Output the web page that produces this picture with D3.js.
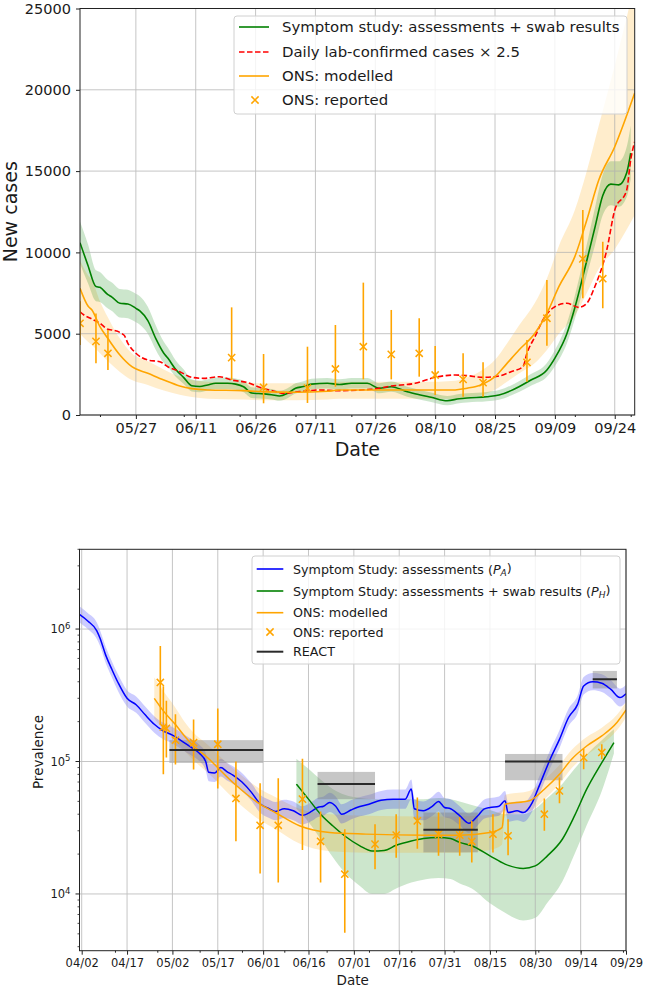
<!DOCTYPE html>
<html><head><meta charset="utf-8">
<script src="https://cdn.jsdelivr.net/npm/d3@7"></script>
<style>
body{margin:0;background:#fff;}
text{font-family:"DejaVu Sans",sans-serif;fill:#1a1a1a;}
</style>
</head><body>
<svg id="c" width="645" height="988"></svg>
<script>
// ================= DATA: top chart (new cases) =================
const topXTicks = ["05/27","06/11","06/26","07/11","07/26","08/10","08/25","09/09","09/24"];
const topXMinor = ["05/18","06/08","06/22","07/06","07/20","08/03","08/17","08/31","09/14","09/28"];
const topYTicks = [0,5000,10000,15000,20000,25000];

const symDates = ["05-13","05-15","05-17","05-18","05-20","05-21","05-23","05-25","05-27","05-28","05-30","06-01","06-03","06-04","06-06","06-08","06-10","06-12","06-14","06-16","06-19","06-21","06-23","06-25","06-28","06-30","07-02","07-04","07-06","07-08","07-10","07-14","07-17","07-20","07-24","07-27","07-30","08-03","08-06","08-09","08-13","08-16","08-18","08-23","08-26","08-29","08-31","09-03","09-07","09-09","09-12","09-14","09-17","09-19","09-21","09-23","09-25","09-27","09-28"];
const symVals  = [10600,9200,7900,7850,7400,7250,6870,6830,6560,6400,5800,4700,3800,3500,2800,2300,1800,1750,1850,1950,1950,1900,1740,1350,1300,1250,1170,1330,1640,1750,1900,1950,1880,1950,1950,1640,1740,1430,1250,1090,880,1000,1050,1120,1230,1500,1740,2150,2770,3500,5000,6600,9500,11500,13500,14200,14150,14900,16100];
const symLo    = [9300,8100,7000,6950,6550,6400,6000,5950,5700,5550,5000,4000,3200,2950,2350,1900,1450,1400,1500,1600,1600,1550,1400,1050,1000,950,870,1030,1320,1430,1580,1630,1560,1630,1630,1330,1430,1130,960,800,600,720,770,840,940,1200,1420,1800,2350,3000,4400,5900,8600,10400,12300,12900,12800,13400,14500];
const symHi    = [11900,10500,8900,8800,8300,8150,7750,7700,7450,7300,6650,5500,4500,4150,3350,2800,2200,2100,2200,2300,2300,2250,2100,1700,1650,1600,1500,1650,1950,2080,2230,2280,2200,2280,2280,1960,2060,1740,1550,1380,1170,1290,1340,1420,1530,1820,2080,2520,3200,4000,5650,7350,10500,12700,14800,15600,15600,16500,17800];

const labDates = ["05-13","05-14","05-16","05-18","05-20","05-21","05-24","05-25","05-27","05-30","06-02","06-04","06-07","06-10","06-13","06-17","06-20","06-24","06-27","06-30","07-03","07-07","07-12","07-17","07-25","07-30","08-05","08-10","08-15","08-18","08-22","08-26","08-29","09-01","09-02","09-04","09-06","09-09","09-12","09-15","09-17","09-19","09-22","09-24","09-27","09-28","09-29"];
const labVals  = [6350,6150,5900,5640,5270,5230,4920,4410,3800,3380,3280,2970,2665,2317,2255,2357,2150,1990,1700,1500,1335,1435,1537,1497,1580,1783,1950,2317,2460,2420,2317,2400,2665,2970,3795,4816,5843,6660,6870,6620,6870,7890,10150,12600,13840,15700,16800];

const onsDates = ["05-13","05-15","05-16","05-18","05-20","05-23","05-26","05-30","06-03","06-07","06-10","06-14","06-23","06-29","07-06","07-14","07-17","07-26","08-03","08-11","08-15","08-18","08-20","08-22","08-25","08-28","08-31","09-04","09-07","09-10","09-14","09-17","09-20","09-24","09-29"];
const onsVals  = [7790,6700,6460,5430,4700,3690,2970,2565,2150,1783,1620,1537,1500,1420,1400,1460,1537,1537,1537,1537,1540,1650,1740,1906,2357,3177,3997,5024,6250,7890,9740,11993,14453,16500,19800];
const onsLo    = [5000,4500,4300,3800,3300,2650,2150,1850,1500,1250,1100,1000,950,900,900,950,1000,1000,1000,1000,1000,1080,1150,1250,1550,2050,2550,3200,4000,5000,6100,7500,9000,10200,12300];
const onsHi    = [9500,8600,8300,7000,6000,4700,3800,3300,2800,2350,2150,2050,2000,1950,1950,2000,2050,2050,2050,2050,2100,2300,2500,2800,3400,4400,5500,6900,8400,10400,12600,15000,17800,21500,26500];

const repDates = ["05-13","05-17","05-20","06-20","06-28","07-09","07-16","07-23","07-30","08-06","08-10","08-17","08-22","09-02","09-07","09-16","09-21"];
const repVals  = [5640,4530,3795,3525,1700,1650,2830,4200,3730,3795,2460,2195,1990,3240,5950,9600,8380];
const repLo    = [4300,3180,2768,2150,720,740,1740,2190,2190,2357,1230,1130,1126,2050,4260,7180,6560];
const repHi    = [7000,6250,5230,6620,3750,4200,5535,8140,6460,5950,4240,3795,3240,4613,8300,12600,10660];

// ================= DATA: bottom chart (prevalence) =================
const botXTicks = ["04/02","04/17","05/02","05/17","06/01","06/16","07/01","07/16","07/31","08/15","08/30","09/14","09/29"];
const botXMinor = ["04/13","04/27","05/11","05/25","06/08","06/22","07/06","07/20","08/03","08/17","08/31","09/14","09/28"];
const botYTicks = [1e4,1e5,1e6];
const botYExp = ["4","5","6"];

const paDates = ["04-01","04-04","04-07","04-08","04-10","04-12","04-14","04-17","04-20","04-23","04-26","04-29","05-02","05-05","05-08","05-11","05-13","05-14","05-16","05-18","05-20","05-22","05-25","05-28","05-31","06-03","06-05","06-08","06-11","06-14","06-17","06-19","06-21","06-23","06-25","06-27","06-30","07-02","07-06","07-10","07-14","07-18","07-20","07-21","07-24","07-27","07-29","07-31","08-02","08-05","08-08","08-11","08-13","08-15","08-18","08-20","08-21","08-24","08-26","08-29","08-31","09-04","09-07","09-10","09-13","09-15","09-18","09-21","09-24","09-27","09-29"];
const paVals = [1.30e6,1.15e6,9.7e5,8.6e5,6.3e5,4.95e5,3.95e5,3.0e5,2.68e5,2.25e5,1.91e5,1.70e5,1.58e5,1.43e5,1.29e5,1.15e5,1.0e5,8.3e4,8.2e4,9.0e4,8.4e4,7.9e4,7.0e4,5.9e4,4.8e4,4.4e4,4.2e4,4.4e4,4.25e4,3.93e4,4.2e4,4.5e4,4.6e4,4.9e4,4.6e4,4.0e4,4.3e4,4.5e4,4.76e4,5.1e4,5.2e4,5.2e4,6.2e4,4.4e4,4.25e4,4.6e4,5.0e4,4.5e4,4.4e4,3.9e4,3.42e4,3.9e4,4.37e4,4.5e4,4.6e4,5.05e4,4.12e4,4.24e4,4.12e4,4.9e4,6.3e4,1.05e5,1.47e5,2.15e5,2.7e5,3.72e5,4.0e5,3.9e5,3.5e5,3.04e5,3.25e5];
const paLo = [1.13e6,1.0e6,8.4e5,7.5e5,5.5e5,4.3e5,3.4e5,2.6e5,2.33e5,1.95e5,1.65e5,1.47e5,1.37e5,1.24e5,1.12e5,1.0e5,8.6e4,7.1e4,7.0e4,7.7e4,7.2e4,6.8e4,6.0e4,5.1e4,4.1e4,3.75e4,3.6e4,3.75e4,3.6e4,3.35e4,3.55e4,3.8e4,3.9e4,4.15e4,3.9e4,3.4e4,3.65e4,3.8e4,4.0e4,4.3e4,4.4e4,4.4e4,5.2e4,3.7e4,3.6e4,3.9e4,4.2e4,3.8e4,3.7e4,3.3e4,2.9e4,3.3e4,3.7e4,3.8e4,3.9e4,4.3e4,3.5e4,3.6e4,3.5e4,4.2e4,5.4e4,9.0e4,1.26e5,1.85e5,2.3e5,3.2e5,3.45e5,3.35e5,3.0e5,2.6e5,2.8e5];
const paHi = [1.50e6,1.32e6,1.12e6,9.9e5,7.3e5,5.7e5,4.55e5,3.45e5,3.1e5,2.6e5,2.2e5,1.96e5,1.82e5,1.65e5,1.49e5,1.33e5,1.16e5,9.7e4,9.6e4,1.05e5,9.8e4,9.2e4,8.2e4,6.9e4,5.6e4,5.15e4,4.95e4,5.15e4,5.0e4,4.6e4,4.95e4,5.3e4,5.45e4,5.8e4,5.45e4,4.75e4,5.1e4,5.3e4,5.6e4,6.0e4,6.15e4,6.15e4,7.3e4,5.2e4,5.0e4,5.45e4,5.9e4,5.3e4,5.2e4,4.6e4,4.05e4,4.6e4,5.15e4,5.3e4,5.45e4,6.0e4,4.9e4,5.0e4,4.9e4,5.8e4,7.4e4,1.23e5,1.72e5,2.5e5,3.15e5,4.35e5,4.65e5,4.55e5,4.1e5,3.55e5,3.8e5];

const phDates = ["06-12","06-16","06-20","06-24","06-28","07-03","07-07","07-11","07-15","07-20","07-24","07-29","08-02","08-05","08-09","08-15","08-20","08-26","08-30","09-03","09-08","09-12","09-16","09-21","09-25"];
const phVals = [6.75e4,5.2e4,4.0e4,3.27e4,2.74e4,2.31e4,2.11e4,2.13e4,2.33e4,2.51e4,2.62e4,2.67e4,2.62e4,2.45e4,2.31e4,1.94e4,1.68e4,1.56e4,1.63e4,1.94e4,2.6e4,3.9e4,6.18e4,9.8e4,1.39e5];
const phLo = [4.4e4,3.5e4,2.6e4,1.9e4,1.45e4,1.15e4,1.0e4,1.0e4,1.1e4,1.22e4,1.28e4,1.32e4,1.3e4,1.2e4,1.1e4,8.5e3,7.2e3,6.3e3,6.6e3,8.6e3,1.25e4,2.0e4,3.3e4,6.0e4,1.15e5];
const phHi = [1.05e5,8.8e4,7.3e4,6.2e4,5.6e4,5.3e4,5.2e4,5.2e4,5.2e4,5.2e4,5.2e4,5.3e4,5.2e4,5.0e4,4.7e4,4.3e4,4.0e4,4.0e4,4.4e4,5.3e4,6.8e4,8.8e4,1.13e5,1.45e5,1.75e5];

const onsBDates = ["04-26","04-29","05-03","05-06","05-09","05-13","05-22","05-31","06-05","06-13","06-23","07-05","07-25","08-05","08-15","08-19","08-20","08-28","09-02","09-07","09-11","09-16","09-21","09-26","09-29"];
const onsBVals = [3.0e5,2.41e5,1.9e5,1.56e5,1.31e5,1.1e5,6.95e4,4.76e4,4.12e4,3.27e4,2.91e4,2.83e4,2.78e4,2.78e4,2.91e4,3.17e4,4.76e4,5.05e4,6.18e4,8.0e4,1.04e5,1.31e5,1.56e5,1.97e5,2.45e5];
const onsBLo = [2.1e5,1.75e5,1.45e5,1.2e5,1.02e5,8.5e4,5.3e4,3.6e4,3.1e4,2.4e4,2.1e4,2.05e4,2.05e4,2.05e4,2.15e4,2.35e4,3.9e4,4.2e4,5.2e4,6.8e4,8.9e4,1.12e5,1.35e5,1.72e5,2.15e5];
const onsBHi = [4.3e5,3.4e5,2.55e5,2.0e5,1.65e5,1.38e5,8.9e4,6.2e4,5.4e4,4.4e4,4.0e4,3.9e4,3.85e4,3.85e4,3.95e4,4.3e4,5.6e4,6.0e4,7.3e4,9.4e4,1.22e5,1.53e5,1.8e5,2.25e5,2.8e5];

const repBDates = ["04-28","04-29","04-30","05-03","05-09","05-17","05-23","05-31","06-06","06-14","06-20","06-28","07-08","07-15","07-22","07-29","08-05","08-09","08-16","08-21","09-02","09-07","09-15","09-21"];
const repBVals = [3.95e5,1.82e5,1.78e5,1.45e5,1.39e5,1.35e5,5.26e4,3.3e4,3.3e4,5.2e4,2.5e4,1.41e4,2.38e4,2.78e4,3.56e4,2.83e4,2.78e4,2.5e4,2.83e4,2.75e4,4.0e4,6.0e4,1.07e5,1.17e5];
const repBLo = [1.9e5,8.0e4,1.07e5,9.5e4,8.7e4,6.25e4,2.5e4,1.43e4,1.22e4,2.15e4,1.22e4,5.1e3,1.54e4,1.88e4,2.19e4,1.94e4,1.94e4,1.73e4,2.06e4,1.96e4,3.0e4,4.84e4,8.75e4,1.04e5];
const repBHi = [7.45e5,3.7e5,2.87e5,2.27e5,2.08e5,2.51e5,1.0e5,6.85e4,7.48e4,1.05e5,4.2e4,3.08e4,3.36e4,4.0e4,5.35e4,4.12e4,3.79e4,3.56e4,4.0e4,3.67e4,5.26e4,7.57e4,1.25e5,1.35e5];

const reactStart = ["05-01","06-19","07-24","08-20","09-18"];
const reactEnd   = ["06-01","07-08","08-11","09-08","09-26"];
const reactVals  = [1.22e5,6.75e4,3.05e4,1.0e5,4.18e5];
const reactLo    = [9.75e4,5.19e4,2.06e4,7.22e4,3.56e5];
const reactHi    = [1.45e5,8.35e4,4.12e4,1.14e5,4.83e5];

// ================= DRAWING =================
const svg = d3.select("#c");
const dt = s => new Date(2020, +s.slice(0,2)-1, +s.slice(3,5));
const GREEN="#008000", ORANGE="#ffa500", RED="#ff0000", BLUE="#0000ff";
const defs = svg.append("defs");

function zip(dates, vals, lo, hi){ return dates.map((d,i)=>({d:dt(d), v:vals[i], lo:lo?lo[i]:null, hi:hi?hi[i]:null})); }

function drawPanel(cfg){
  const {L, R, Tp, B, id} = cfg;
  defs.append("clipPath").attr("id", id).append("rect").attr("x",L).attr("y",Tp).attr("width",R-L).attr("height",B-Tp);
  const g = svg.append("g");
  const plot = g.append("g").attr("clip-path", `url(#${id})`);
  return {g, plot};
}

function band(plot, data, x, y, color, op){
  plot.append("path").datum(data)
    .attr("d", d3.area().x(d=>x(d.d)).y0(d=>y(d.lo)).y1(d=>y(d.hi)).curve(d3.curveMonotoneX))
    .attr("fill", color).attr("opacity", op).attr("stroke","none");
}
function line(plot, data, x, y, color, w, dash){
  const p = plot.append("path").datum(data)
    .attr("d", d3.line().x(d=>x(d.d)).y(d=>y(d.v)).curve(d3.curveMonotoneX))
    .attr("fill","none").attr("stroke", color).attr("stroke-width", w);
  if(dash) p.attr("stroke-dasharray", dash);
}
function errMarks(plot, data, x, y, color){
  const gg = plot.append("g");
  data.forEach(d=>{
    gg.append("line").attr("x1",x(d.d)).attr("x2",x(d.d)).attr("y1",y(d.lo)).attr("y2",y(d.hi))
      .attr("stroke",color).attr("stroke-width",1.6);
    gg.append("path").attr("transform",`translate(${x(d.d)},${y(d.v)})`)
      .attr("d","M-3.6,-3.6L3.6,3.6M-3.6,3.6L3.6,-3.6").attr("stroke",color).attr("stroke-width",1.5).attr("fill","none");
  });
}
const md = s => dt(s.replace("/","-"));

// ---------------- TOP PANEL ----------------
{
  const L=80, R=634.7, Tp=8.5, B=415;
  const x = d3.scaleTime().domain([dt("05-13"), dt("09-29")]).range([L,R]);
  const y = d3.scaleLinear().domain([0,25000]).range([B,Tp]);
  const {g, plot} = drawPanel({L,R,Tp,B,id:"clipTop"});

  band(plot, zip(onsDates, onsVals, onsLo, onsHi), x, y, ORANGE, 0.2);
  band(plot, zip(symDates, symVals, symLo, symHi), x, y, GREEN, 0.2);

  const grid = g.append("g").attr("stroke","#b0b0b0").attr("stroke-width",0.9).attr("opacity",0.8);
  topXTicks.forEach(t=>grid.append("line").attr("x1",x(md(t))).attr("x2",x(md(t))).attr("y1",Tp).attr("y2",B));
  topYTicks.forEach(t=>grid.append("line").attr("x1",L).attr("x2",R).attr("y1",y(t)).attr("y2",y(t)));

  const plot2 = g.append("g").attr("clip-path","url(#clipTop)");
  line(plot2, zip(symDates, symVals), x, y, GREEN, 1.6);
  line(plot2, zip(labDates, labVals), x, y, RED, 1.6, "5.5,2.5");
  line(plot2, zip(onsDates, onsVals), x, y, ORANGE, 1.6);
  errMarks(plot2, zip(repDates, repVals, repLo, repHi), x, y, ORANGE);

  const ax = g.append("g").attr("transform",`translate(0,${B})`)
    .call(d3.axisBottom(x).tickValues(topXTicks.map(md)).tickFormat(d3.timeFormat("%m/%d")).tickSize(4).tickPadding(4));
  ax.select(".domain").remove();
  ax.selectAll("text").attr("font-size",14.5).attr("font-family","DejaVu Sans").attr("fill","#1a1a1a");
  ax.selectAll("line").attr("stroke","#222");
  const axm = g.append("g").attr("transform",`translate(0,${B})`)
    .call(d3.axisBottom(x).tickValues(topXMinor.map(md)).tickFormat("").tickSize(2));
  axm.select(".domain").remove(); axm.selectAll("line").attr("stroke","#222");
  const ay = g.append("g").attr("transform",`translate(${L},0)`)
    .call(d3.axisLeft(y).tickValues(topYTicks).tickFormat(d3.format("d")).tickSize(4).tickPadding(5));
  ay.select(".domain").remove();
  ay.selectAll("text").attr("font-size",14.5).attr("font-family","DejaVu Sans").attr("fill","#1a1a1a");
  ay.selectAll("line").attr("stroke","#222");

  g.append("rect").attr("x",L).attr("y",Tp).attr("width",R-L).attr("height",B-Tp)
    .attr("fill","none").attr("stroke","#222").attr("stroke-width",1);

  g.append("text").attr("x",(L+R)/2).attr("y",456).attr("text-anchor","middle").attr("font-size",19).text("Date");
  g.append("text").attr("transform",`translate(16.5,${(Tp+B)/2}) rotate(-90)`).attr("text-anchor","middle").attr("font-size",19).text("New cases");

  const lg = g.append("g");
  lg.append("rect").attr("x",234).attr("y",16).attr("width",393).attr("height",98).attr("rx",3)
    .attr("fill","#fff").attr("fill-opacity",0.8).attr("stroke","#d0d0d0");
  const items = [
    {t:"Symptom study: assessments + swab results", c:GREEN, k:"line"},
    {t:"Daily lab-confirmed cases × 2.5", c:RED, k:"dash"},
    {t:"ONS: modelled", c:ORANGE, k:"line"},
    {t:"ONS: reported", c:ORANGE, k:"x"}];
  const ly = [27,52,76,100];
  items.forEach((it,i)=>{
    if(it.k==="x") lg.append("path").attr("transform",`translate(255,${ly[i]})`).attr("d","M-3.6,-3.6L3.6,3.6M-3.6,3.6L3.6,-3.6").attr("stroke",it.c).attr("stroke-width",1.5);
    else { const l = lg.append("line").attr("x1",239).attr("x2",269).attr("y1",ly[i]).attr("y2",ly[i]).attr("stroke",it.c).attr("stroke-width",1.6);
      if(it.k==="dash") l.attr("stroke-dasharray","5.5,2.5"); }
    lg.append("text").attr("x",282).attr("y",ly[i]).attr("dy","0.36em").attr("font-size",14.9).text(it.t);
  });
}

// ---------------- BOTTOM PANEL ----------------
{
  const L=79.5, R=626, Tp=549.3, B=950.7;
  const x = d3.scaleTime().domain([dt("04-02"), dt("09-29")]).range([81.7,R]);
  const y = d3.scaleLog().domain([3730, 4.0e6]).range([B,Tp]);
  const {g, plot} = drawPanel({L,R,Tp,B,id:"clipBot"});

  band(plot, zip(phDates, phVals, phLo, phHi), x, y, GREEN, 0.2);
  band(plot, zip(onsBDates, onsBVals, onsBLo, onsBHi), x, y, ORANGE, 0.2);
  band(plot, zip(paDates, paVals, paLo, paHi), x, y, BLUE, 0.2);

  reactStart.forEach((s,i)=>{
    plot.append("rect").attr("x",x(dt(s))).attr("width",x(dt(reactEnd[i]))-x(dt(s)))
      .attr("y",y(reactHi[i])).attr("height",y(reactLo[i])-y(reactHi[i]))
      .attr("fill","#808080").attr("opacity",0.45);
  });

  const grid = g.append("g").attr("stroke","#b0b0b0").attr("stroke-width",0.9).attr("opacity",0.8);
  botXTicks.forEach(t=>grid.append("line").attr("x1",x(md(t))).attr("x2",x(md(t))).attr("y1",Tp).attr("y2",B));
  botYTicks.forEach(t=>grid.append("line").attr("x1",L).attr("x2",R).attr("y1",y(t)).attr("y2",y(t)));

  const plot2 = g.append("g").attr("clip-path","url(#clipBot)");
  line(plot2, zip(paDates, paVals), x, y, BLUE, 1.5);
  line(plot2, zip(phDates, phVals), x, y, GREEN, 1.5);
  line(plot2, zip(onsBDates, onsBVals), x, y, ORANGE, 1.5);
  errMarks(plot2, zip(repBDates, repBVals, repBLo, repBHi), x, y, ORANGE);
  reactStart.forEach((s,i)=>{
    plot2.append("line").attr("x1",x(dt(s))).attr("x2",x(dt(reactEnd[i]))).attr("y1",y(reactVals[i])).attr("y2",y(reactVals[i]))
      .attr("stroke","#2a2a2a").attr("stroke-width",2);
  });

  const ax = g.append("g").attr("transform",`translate(0,${B})`)
    .call(d3.axisBottom(x).tickValues(botXTicks.map(md)).tickFormat(d3.timeFormat("%m/%d")).tickSize(4).tickPadding(4));
  ax.select(".domain").remove();
  ax.selectAll("text").attr("font-size",11.5).attr("font-family","DejaVu Sans").attr("fill","#1a1a1a");
  ax.selectAll("line").attr("stroke","#222");
  const axm = g.append("g").attr("transform",`translate(0,${B})`)
    .call(d3.axisBottom(x).tickValues(botXMinor.map(md)).tickFormat("").tickSize(2));
  axm.select(".domain").remove(); axm.selectAll("line").attr("stroke","#222");

  const ay = g.append("g");
  botYTicks.forEach((t,i)=>{
    ay.append("line").attr("x1",L-4).attr("x2",L).attr("y1",y(t)).attr("y2",y(t)).attr("stroke","#222");
    const tx = ay.append("text").attr("x",L-9).attr("y",y(t)).attr("dy","0.38em").attr("text-anchor","end").attr("font-size",11.5);
    tx.append("tspan").text("10");
    tx.append("tspan").attr("dy","-0.55em").attr("font-size",8.5).text(botYExp[i]);
  });
  for(let k=3;k<=6;k++) for(let m=2;m<=9;m++){
    const v=m*Math.pow(10,k);
    if(v>=3730 && v<=4.0e6) ay.append("line").attr("x1",L-2).attr("x2",L).attr("y1",y(v)).attr("y2",y(v)).attr("stroke","#222").attr("stroke-width",0.8);
  }

  g.append("rect").attr("x",L).attr("y",Tp).attr("width",R-L).attr("height",B-Tp)
    .attr("fill","none").attr("stroke","#222").attr("stroke-width",1);

  g.append("text").attr("x",(L+R)/2).attr("y",985).attr("text-anchor","middle").attr("font-size",13.5).text("Date");
  g.append("text").attr("transform",`translate(42.5,752) rotate(-90)`).attr("text-anchor","middle").attr("font-size",13.5).text("Prevalence");

  const lg = g.append("g");
  lg.append("rect").attr("x",252).attr("y",556).attr("width",368).attr("height",108).attr("rx",3)
    .attr("fill","#fff").attr("fill-opacity",0.8).attr("stroke","#d0d0d0");
  const ly=[569,591,612.7,632,651.7];
  const cols=[BLUE,GREEN,ORANGE,ORANGE,"#2a2a2a"];
  const main=["Symptom Study: assessments (","Symptom Study: assessments + swab results (","ONS: modelled","ONS: reported","REACT"];
  const subs=["A","H",null,null,null];
  ly.forEach((yy,i)=>{
    if(i===3) lg.append("path").attr("transform",`translate(270,${yy})`).attr("d","M-3.6,-3.6L3.6,3.6M-3.6,3.6L3.6,-3.6").attr("stroke",cols[i]).attr("stroke-width",1.5);
    else lg.append("line").attr("x1",256.7).attr("x2",283.3).attr("y1",yy).attr("y2",yy).attr("stroke",cols[i]).attr("stroke-width",i===4?2:1.6);
    const t = lg.append("text").attr("x",293).attr("y",yy).attr("dy","0.36em").attr("font-size",12.7);
    t.append("tspan").text(main[i]);
    if(subs[i]){
      t.append("tspan").attr("font-style","italic").text("P");
      t.append("tspan").attr("font-size",9).attr("dy","0.3em").attr("font-style","italic").text(subs[i]);
      t.append("tspan").attr("dy","-0.3em").text(")");
    }
  });
}
</script>
</body></html>
